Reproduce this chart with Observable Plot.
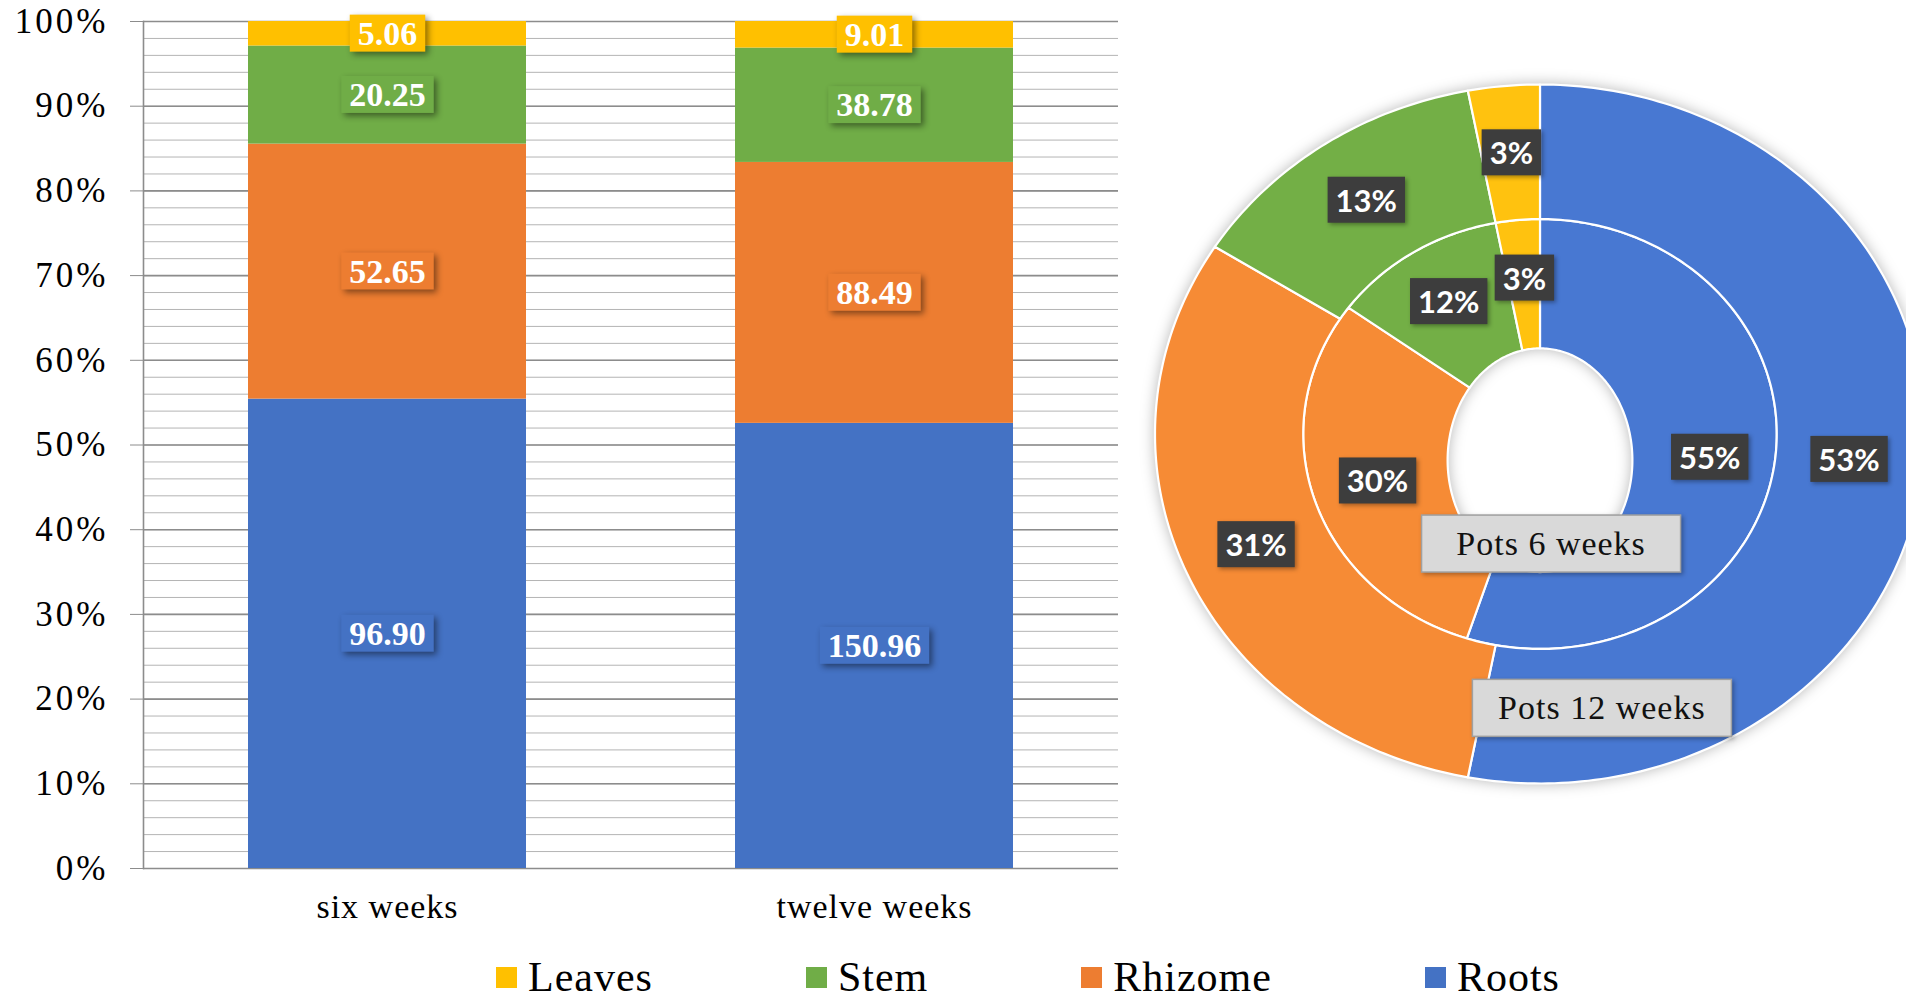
<!DOCTYPE html>
<html>
<head>
<meta charset="utf-8">
<script src="https://cdn.jsdelivr.net/npm/d3@7"></script>
<script src="https://cdn.jsdelivr.net/npm/@observablehq/plot@0.6"></script>
<style>
  html, body { margin: 0; padding: 0; background: #fff; overflow: hidden; }
  #wrap { position: relative; width: 1906px; height: 997px; }
  #bars { position: absolute; left: 0; top: 0; }
  #bars g[aria-label="y-axis tick label"] text { letter-spacing: 3px; }
  #bars g[aria-label="x-axis tick label"] text { letter-spacing: 1px; }
  #donut { position: absolute; left: 1130px; top: 0; }
  #donut g[aria-label="area"] { filter: drop-shadow(0 0 7px rgba(0,0,0,0.28)); }
  #legend { position: absolute; left: 496px; top: 954px; display: flex; align-items: center;
            font-family: "Liberation Serif", "Times New Roman", serif; font-size: 42px; line-height: 46px;
            letter-spacing: 1px; color: #000; }
  #legend .item { display: flex; align-items: center; margin-right: 153px; }
  #legend .sw { width: 21px; height: 21px; margin-right: 11px; }
</style>
</head>
<body>
<div id="wrap">
  <div id="bars"></div>
  <div id="donut"></div>
  <div id="legend"></div>
</div>
<script>
// Dry-mass of plant parts (stacked bottom to top: Roots, Rhizome, Stem, Leaves)
const weeks = ["six weeks", "twelve weeks"];
const parts = ["Roots", "Rhizome", "Stem", "Leaves"];
const roots = [96.90, 150.96];
const rhizome = [52.65, 88.49];
const stem = [20.25, 38.78];
const leaves = [5.06, 9.01];

// Share of each part (%) per ring of the doughnut, same part order
const rings = ["Pots 6 weeks", "Pots 12 weeks"];
const share6 = [55, 30, 12, 3];
const share12 = [53, 31, 13, 3];

const legendOrder = ["Leaves", "Stem", "Rhizome", "Roots"];

const barColors = ["#4472C4", "#ED7D31", "#70AD47", "#FFC000"];
const donutColors = ["#4878D2", "#F68B35", "#73AF46", "#FFC20F"];
const serif = '"Liberation Serif", "Times New Roman", serif';

// ---------- stacked 100% bar chart ----------
const series = [roots, rhizome, stem, leaves];
const rows = [];
weeks.forEach((w, i) => parts.forEach((p, k) => rows.push({week: w, part: p, value: series[k][i]})));

const bars = Plot.plot({
  width: 1130,
  height: 940,
  marginLeft: 143,
  marginRight: 12,
  marginTop: 21,
  marginBottom: 72,
  style: {fontFamily: serif, fontSize: "35px", color: "#000", background: "transparent"},
  x: {domain: weeks, paddingInner: 0.43, paddingOuter: 0.215, label: null},
  y: {domain: [0, 1], label: null},
  color: {domain: parts, range: barColors},
  marks: [
    Plot.ruleY(d3.range(0, 1.0001, 0.02), {stroke: "#b4b4b4", strokeWidth: 1}),
    Plot.ruleY(d3.range(0, 1.0001, 0.1), {stroke: "#8c8c8c", strokeWidth: 1.6}),
    Plot.barY(rows, Plot.stackY({offset: "normalize", x: "week", y: "value", fill: "part"})),
    Plot.frame({anchor: "left", stroke: "#8c8c8c", strokeWidth: 1.6}),
    Plot.axisY({ticks: d3.range(0, 1.0001, 0.1), tickFormat: d3.format(".0%"), tickSize: 13, tickPadding: 22, stroke: "#8c8c8c", label: null}),
    Plot.axisX({tickSize: 0, tickPadding: 25, fontSize: 34, label: null}),
    Plot.text(rows, Plot.stackY({
      offset: "normalize", x: "week", y: "value",
      text: d => d.value.toFixed(2),
      fill: "white", fontWeight: "bold", fontSize: 34
    }))
  ]
});
document.getElementById("bars").append(bars);

// ---------- doughnut (inner ring 6 weeks, outer ring 12 weeks) ----------
// The hole is a slightly tall ellipse sitting a little below the ring centre.
const hole = {a: 0.24, b: 0.32, c: -0.075};
function holeRadius(angle) {
  const s = Math.sin(angle), co = Math.cos(angle);
  const A = (s * s) / (hole.a * hole.a) + (co * co) / (hole.b * hole.b);
  const B = -2 * co * hole.c / (hole.b * hole.b);
  const C = (hole.c * hole.c) / (hole.b * hole.b) - 1;
  return (-B + Math.sqrt(B * B - 4 * A * C)) / (2 * A);
}
const ringShares = [share6, share12];
const ringRadii = [[holeRadius, () => 0.615], [() => 0.615, () => 1]];
const arcs = [];
const pctLabels = [];
rings.forEach((ring, r) => {
  const [r0, r1] = ringRadii[r];
  let acc = 0;
  ringShares[r].forEach((v, k) => {
    const a0 = acc / 100 * 2 * Math.PI;
    const a1 = (acc + v) / 100 * 2 * Math.PI;
    const n = Math.max(4, Math.ceil(v * 3.6));
    for (let j = 0; j <= n; ++j) {
      const a = a0 + (a1 - a0) * j / n;
      const ri = r0(a), ro = r1(a);
      arcs.push({
        key: ring + "/" + parts[k], part: parts[k],
        x1: ri * Math.sin(a), y1: ri * Math.cos(a),
        x2: ro * Math.sin(a), y2: ro * Math.cos(a)
      });
    }
    const am = (a0 + a1) / 2;
    const rm = r === 0 ? 0.445 : 0.805;
    pctLabels.push({x: rm * Math.sin(am), y: rm * Math.cos(am), text: v + "%"});
    acc += v;
  });
});

// series-name callouts placed near the bottom of each ring
const calloutAngle = [175, 168.5].map(d => d * Math.PI / 180);
const calloutRadius = [0.315, 0.80];
const callouts = rings.map((name, r) => ({
  name,
  x: calloutRadius[r] * Math.sin(calloutAngle[r]),
  y: calloutRadius[r] * Math.cos(calloutAngle[r])
}));

const donut = Plot.plot({
  width: 776,
  height: 880,
  margin: 0,
  style: {fontFamily: serif, background: "transparent", overflow: "visible"},
  x: {domain: [-1, 1], range: [25, 795], axis: null},
  y: {domain: [-1, 1], range: [783.5, 84.5], axis: null},
  color: {domain: parts, range: donutColors},
  marks: [
    Plot.area(arcs, {x1: "x1", y1: "y1", x2: "x2", y2: "y2", z: "key", fill: "part", stroke: "white", strokeWidth: 2.2}),
    Plot.text(pctLabels, {x: "x", y: "y", text: "text", fill: "white", fontWeight: "bold", fontSize: 31, fontFamily: "Lato, 'Open Sans', sans-serif"}),
    Plot.text(callouts, {x: "x", y: "y", text: "name", fill: "#111", fontSize: 34})
  ]
});
document.getElementById("donut").append(donut);
donut.querySelectorAll('g[aria-label="text"]')[1].style.letterSpacing = "1px";

// ---------- label boxes drawn behind text ----------
function boxText(group, style) {
  group.querySelectorAll("text").forEach((t, i) => {
    const b = t.getBBox();
    const s = style(i);
    const w = s.width != null ? s.width : b.width + 2 * s.padX;
    const rect = document.createElementNS("http://www.w3.org/2000/svg", "rect");
    rect.setAttribute("x", b.x + b.width / 2 - w / 2);
    rect.setAttribute("y", b.y - s.padY);
    rect.setAttribute("width", w);
    rect.setAttribute("height", b.height + 2 * s.padY);
    const tr = t.getAttribute("transform");
    if (tr) rect.setAttribute("transform", tr);
    rect.setAttribute("fill", s.fill);
    rect.setAttribute("stroke", s.stroke || "none");
    rect.setAttribute("stroke-width", s.strokeWidth || 0);
    rect.style.filter = s.shadow;
    t.parentNode.insertBefore(rect, t);
  });
}

const barColor = d3.scaleOrdinal(parts, barColors);
const barTextGroup = bars.querySelector('g[aria-label="text"]');
boxText(barTextGroup, i => ({
  padX: 8, padY: 0, fill: barColor(rows[i].part),
  shadow: "drop-shadow(3px 3px 3px rgba(0,0,0,0.45))"
}));

const donutTextGroups = donut.querySelectorAll('g[aria-label="text"]');
boxText(donutTextGroups[0], () => ({
  padX: 8, padY: 4, fill: "#3d3d3d",
  shadow: "drop-shadow(2px 2px 2px rgba(0,0,0,0.35))"
}));
boxText(donutTextGroups[1], () => ({
  width: 259, padY: 10, fill: "#d9d9d9", stroke: "#a0a0a0", strokeWidth: 1.5,
  shadow: "drop-shadow(2px 2px 2px rgba(0,0,0,0.3))"
}));

// ---------- legend ----------
const legend = document.getElementById("legend");
legendOrder.forEach(p => {
  const item = document.createElement("div");
  item.className = "item";
  const sw = document.createElement("div");
  sw.className = "sw";
  sw.style.background = barColor(p);
  const label = document.createElement("span");
  label.textContent = p;
  item.append(sw, label);
  legend.append(item);
});
</script>
</body>
</html>
